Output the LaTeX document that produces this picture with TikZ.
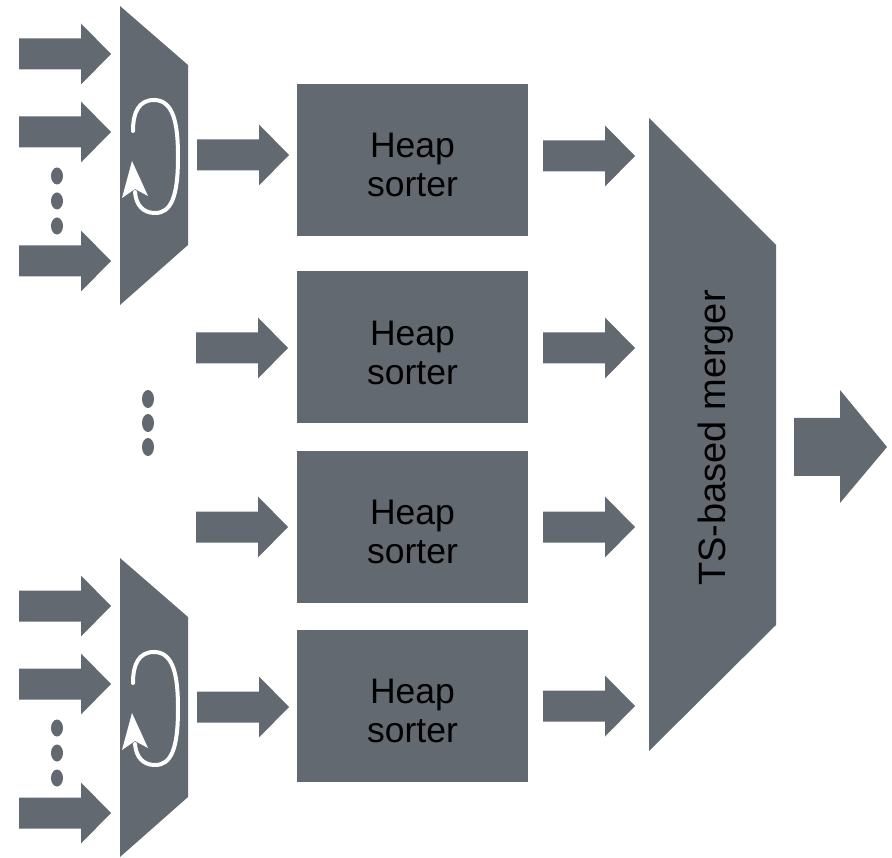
\documentclass[tikz,border=0pt]{standalone}
\usepackage{fontspec}
\setmainfont{Liberation Sans}
\definecolor{slate}{RGB}{99,105,112}
\tikzset{
  blockfill/.style={fill=slate},
  sorterbox/.style={rectangle, fill=slate, minimum width=231pt, minimum height=152pt,
    inner sep=0pt},
  sortertext/.style={align=center, text=black, inner sep=0pt,
    font=\fontsize{35.5}{39}\selectfont},
  looppen/.style={draw=white, line width=4pt, line cap=round},
  dot/.style={fill=slate},
}
% small block arrow: tail x, centre y
\newcommand{\smallarrow}[2]{%
  \fill[blockfill] (#1,#2-15.5) -- (#1+62,#2-15.5) -- (#1+62,#2-30.5) -- (#1+92,#2)
    -- (#1+62,#2+30.5) -- (#1+62,#2+15.5) -- (#1,#2+15.5) -- cycle;}
% heap sorter box with its two-line label
\newcommand{\sorter}[2]{%
  \node[sorterbox] (#1) at (412.5,#2) {};
  \node[sortertext, yshift=-5pt] (#1-label) at (#1.center) {Heap\\sorter};}
% round-robin selector with its inputs, loop symbol and output arrow
\newcommand{\selector}[2]{%
  \begin{scope}[shift={(0,#2)}]
    \coordinate (#1) at (154,155);
    \fill[blockfill] (120,6) -- (188,65) -- (188,245) -- (120,305) -- cycle;
    \smallarrow{19}{54}
    \smallarrow{19}{132}
    \smallarrow{19}{261}
    \fill[dot] (57,176) ellipse (6 and 8.5);
    \fill[dot] (57,201) ellipse (6 and 8.5);
    \fill[dot] (57,226) ellipse (6 and 8.5);
    \draw[looppen] (133,131) .. controls (133,112) and (139,100) .. (154,100)
      .. controls (174,100) and (178,125) .. (178,157)
      .. controls (178,197) and (171,213) .. (155,213)
      .. controls (143,213) and (136,205) .. (135,192);
    \fill[white] (122,198) -- (132,161) -- (148,196) -- (135,189) -- cycle;
    \smallarrow{197}{155}
  \end{scope}}
\begin{document}
\begin{tikzpicture}[x=1pt,y=-1pt]
  \useasboundingbox (0,0) rectangle (892,858);

  % input selectors
  \selector{selA}{0}
  \selector{selB}{552}

  % heap sorters
  \sorter{h1}{160}
  \sorter{h2}{347.5}
  \sorter{h3}{527}
  \sorter{h4}{706}

  % elided rows
  \fill[dot] (148,399) ellipse (6 and 9);
  \fill[dot] (148,423) ellipse (6 and 9);
  \fill[dot] (148,447) ellipse (6 and 9);

  % arrows into the middle sorters
  \smallarrow{196}{348}
  \smallarrow{196}{527}

  % arrows from the sorters to the merger
  \smallarrow{543}{156}
  \smallarrow{543}{348}
  \smallarrow{543}{527}
  \smallarrow{543}{706}

  % merger
  \fill[blockfill] (649,118) -- (776,245) -- (776,625) -- (649,751) -- cycle;
  \coordinate (merger) at (712,435);
  \node[rotate=90, anchor=base, inner sep=0pt, text=black,
        font=\fontsize{38}{38}\selectfont] (mlabel) at (725,438) {TS-based merger};

  % output
  \fill[blockfill] (794,418) -- (840,418) -- (840,390) -- (887,447) -- (840,503)
    -- (840,476) -- (794,476) -- cycle;
\end{tikzpicture}
\end{document}
